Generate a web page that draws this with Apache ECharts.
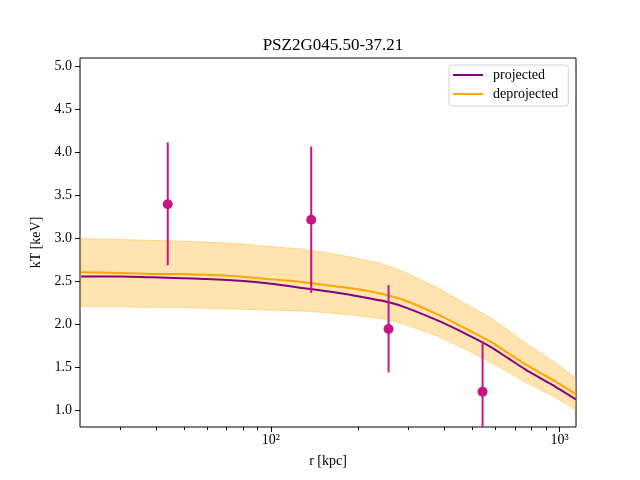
<!DOCTYPE html>
<html><head><meta charset="utf-8">
<script src="https://cdn.jsdelivr.net/npm/echarts@6/dist/echarts.min.js"></script>
<style>html,body{margin:0;padding:0;background:#fff}#c{width:640px;height:480px}</style>
</head><body><div id="c"></div>
<script>
const radius      = [22, 30, 39, 49, 59, 78, 97, 126, 154, 193, 241, 287, 383, 475, 571, 663, 760, 944, 1140];
const projected   = [2.56, 2.56, 2.55, 2.54, 2.53, 2.51, 2.48, 2.43, 2.39, 2.34, 2.28, 2.21, 2.04, 1.89, 1.75, 1.61, 1.48, 1.30, 1.13];
const deprojected = [2.61, 2.60, 2.59, 2.59, 2.58, 2.56, 2.53, 2.50, 2.46, 2.42, 2.36, 2.29, 2.11, 1.95, 1.81, 1.67, 1.54, 1.36, 1.19];
const bandLow     = [2.21, 2.21, 2.20, 2.20, 2.19, 2.18, 2.17, 2.16, 2.14, 2.11, 2.07, 2.01, 1.86, 1.71, 1.57, 1.45, 1.33, 1.17, 1.01];
const bandHigh    = [3.00, 2.99, 2.98, 2.97, 2.96, 2.94, 2.91, 2.88, 2.84, 2.78, 2.71, 2.62, 2.42, 2.24, 2.09, 1.94, 1.79, 1.58, 1.38];

const pointR    = [43.9, 137.9, 255.6, 541];
const pointT    = [3.40, 3.22, 1.95, 1.22];
const errLow    = [2.69, 2.37, 1.445, 0.63];
const errHigh   = [4.12, 4.07, 2.46, 1.81];

const xMajorTicks = [100, 1000];
const xMinorTicks = [30, 40, 50, 60, 70, 80, 90, 200, 300, 400, 500, 600, 700, 800, 900];
const yTicks = [1.0, 1.5, 2.0, 2.5, 3.0, 3.5, 4.0, 4.5, 5.0];

const FONT = 'Liberation Serif';
const sup = {'0':'⁰','1':'¹','2':'²','3':'³','4':'⁴'};

const chart = echarts.init(document.getElementById('c'), null, {renderer: 'canvas'});

const zip = (a, b) => a.map((v, i) => [v, b[i]]);

chart.setOption({
  animation: false,
  backgroundColor: '#fff',
  title: {
    text: 'PSZ2G045.50-37.21',
    left: 328, top: 32, textAlign: 'center',
    textStyle: {fontFamily: FONT, fontSize: 17, fontWeight: 'normal', color: '#000'}
  },
  legend: {
    orient: 'vertical', left: 449, top: 65,
    itemWidth: 30, itemHeight: 2, itemGap: 5, icon: 'rect',
    padding: [3, 10, 5, 4],
    borderColor: '#d0d0d0', borderWidth: 1, borderRadius: 3,
    backgroundColor: 'rgba(255,255,255,0.8)',
    textStyle: {fontFamily: FONT, fontSize: 14, color: '#000', padding: [0, 0, 0, 5]},
    data: ['projected', 'deprojected']
  },
  grid: {left: 80, right: 64, top: 58, bottom: 53, show: true, borderColor: '#000', borderWidth: 1, backgroundColor: 'transparent'},
  xAxis: [{
    type: 'log', logBase: 10, min: 21.8, max: 1140,
    axisLine: {show: false, onZero: false},
    axisTick: {show: true, customValues: xMajorTicks, length: 5, lineStyle: {color: '#000', width: 1}},
    axisLabel: {customValues: xMajorTicks, color: '#000', fontFamily: FONT, fontSize: 14, margin: 6,
      formatter: v => '10' + sup[String(Math.round(Math.log10(v)))]},
    splitLine: {show: false}, minorTick: {show: false}, minorSplitLine: {show: false},
    name: 'r [kpc]', nameLocation: 'middle', nameGap: 27,
    nameTextStyle: {fontFamily: FONT, fontSize: 14, color: '#000'}
  }, {
    type: 'log', logBase: 10, min: 21.8, max: 1140, position: 'bottom',
    axisLine: {show: false, onZero: false},
    axisTick: {show: true, customValues: xMinorTicks, length: 3, lineStyle: {color: '#000', width: 1}},
    axisLabel: {show: false},
    splitLine: {show: false}
  }],
  yAxis: {
    type: 'value', min: 0.81, max: 5.10,
    axisLine: {show: false, onZero: false},
    axisTick: {show: true, customValues: yTicks, length: 5, lineStyle: {color: '#000', width: 1}},
    axisLabel: {customValues: yTicks, color: '#000', fontFamily: FONT, fontSize: 14, margin: 8,
      formatter: v => Number(v).toFixed(1)},
    splitLine: {show: false},
    name: 'kT [keV]', nameLocation: 'middle', nameGap: 34, nameRotate: 90,
    nameTextStyle: {fontFamily: FONT, fontSize: 14, color: '#000'}
  },
  series: [
    {
      type: 'custom', name: 'band', clip: true, z: 1,
      data: radius.map((r, i) => [r, bandLow[i], bandHigh[i]]),
      renderItem: function (params, api) {
        if (params.dataIndex !== 0) return null;
        const pts = [];
        for (let i = 0; i < radius.length; i++) pts.push(api.coord([radius[i], bandHigh[i]]));
        for (let i = radius.length - 1; i >= 0; i--) pts.push(api.coord([radius[i], bandLow[i]]));
        return {type: 'polygon', shape: {points: pts},
          style: {fill: 'rgba(255,165,0,0.3)', stroke: 'rgba(255,165,0,0.35)', lineWidth: 1}};
      },
      silent: true
    },
    {
      type: 'line', name: 'projected', data: zip(radius, projected),
      symbol: 'none', smooth: 0.2, color: '#800080',
      lineStyle: {color: '#800080', width: 2}, z: 3
    },
    {
      type: 'line', name: 'deprojected', data: zip(radius, deprojected),
      symbol: 'none', smooth: 0.2, color: '#FFA500',
      lineStyle: {color: '#FFA500', width: 2}, z: 3
    },
    {
      type: 'custom', name: 'errorbars', clip: true, z: 5,
      data: pointR.map((r, i) => [r, errLow[i], errHigh[i]]),
      renderItem: function (params, api) {
        const p1 = api.coord([api.value(0), api.value(1)]);
        const p2 = api.coord([api.value(0), api.value(2)]);
        return {type: 'line', shape: {x1: p1[0], y1: p1[1], x2: p2[0], y2: p2[1]},
          style: {stroke: '#C71585', lineWidth: 2}};
      },
      silent: true
    },
    {
      type: 'scatter', name: 'data', data: zip(pointR, pointT),
      symbol: 'circle', symbolSize: 10, itemStyle: {color: '#C71585', opacity: 1}, z: 6
    }
  ]
});
</script>
</body></html>
